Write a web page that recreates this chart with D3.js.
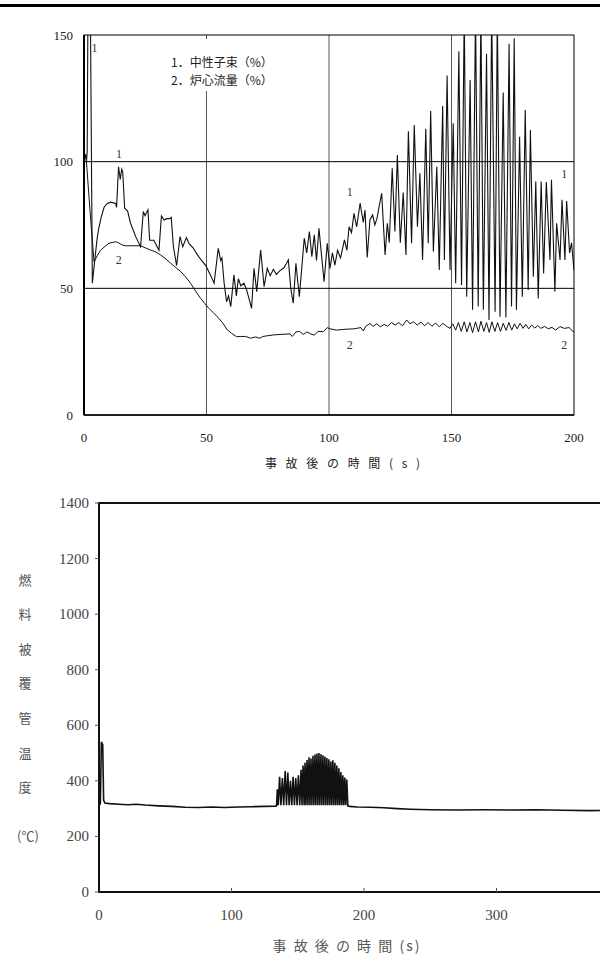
<!DOCTYPE html>
<html>
<head>
<meta charset="utf-8">
<script src="https://cdn.jsdelivr.net/npm/d3@7"></script>
<style>
  body { margin: 0; background: #fff; }
  svg { display: block; }
  .num { font-family: "Liberation Serif", "DejaVu Serif", serif; }
  .jp { font-family: "Noto Sans CJK JP", sans-serif; }
</style>
</head>
<body>
<div id="chart"></div>
<script>
// top chart: neutron flux (1) and core flow (2), % vs time after accident (s)
const fluxData = [
  [0,100],[0.6,103],[1.0,100],[1.3,104],[1.7,175],[2.5,175],[3.4,52],
  [4.5,62],[5.4,70],[6.1,74],[7,78],[8.2,82],[9.5,83.5],[10.9,84],[12.9,83.5],[13.3,82],
  [14.1,98],[14.8,93],[15.4,97],[15.8,96],[16.6,81.6],[17.3,81],[17.8,80.5],[19.0,75.7],
  [21.1,70.4],[23.1,66.4],[24.2,80.3],[24.9,78.7],[25.6,80],[26.1,81],[26.8,69],[28.5,69],
  [30.6,65],[31.6,78.6],[32.7,77],[33.8,77.5],[35.0,77.5],[35.6,78],[36.5,66.4],[37.8,59],
  [39.2,70.4],[40.3,66.4],[41.8,70],[42.9,67.6],[44.5,66],[46.3,63.2],[48,61],[49.7,59],
  [51.5,55.5],[53.1,52],[54.8,65.8],[55.8,61],[56.3,62],[57.2,52],[58.2,44.7],[59.0,47],
  [59.9,42.8],[61.2,55.3],[62.2,47],[63,53.8],[64,51],[65.3,52],[66.5,49],[68.4,42.1],
  [69.4,57.9],[70.5,48.7],[72.1,65.1],[73.5,50.7],[74.8,57.9],[76,55],[77.3,57.5],[78.5,55.5],
  [80,57],[81.5,58],[82.7,59.9],[83.4,61.2],[84.4,50],[85.4,44.1],[86.5,59.9],[87.9,46.7],
  [89.9,69.8],[90.9,64],[92,72.4],[93,62.5],[94,71.1],[94.9,61],[95.9,73.7],[97,62.5],
  [98,52.6],[99.3,67.8],[100.4,57.9],[101.4,64],[102.4,59.2],[103.5,65],[104.7,62],[106.3,69.1],
  [107.3,65],[108.2,74.3],[109.2,72],[110.2,79.6],[111.3,74.3],[112.7,83.6],[114,76],[114.7,80.9],
  [115.6,62.2],[116.7,77],[117.8,79],[118.7,75],[119.6,77.6],[120.6,83],[121.5,87.5],[122.9,63.2],
  [123.8,75.7],[124.6,68],[125.8,97.4],[126.9,72.4],[127.9,102.6],[129.1,68],[130.3,87.8],[131.4,63.2],
  [132.4,112],[133.7,67.8],[134.8,114.5],[136.1,74.3],[137.1,95.4],[138.2,61.2],[139.5,113],[140.5,67.8],
  [141.5,120],[142.6,64.5],[144,98],[145,57.2],[146.4,122],[147.1,61.2],[148.2,134],[149.4,57.2],
  [150.7,115.2],[151.7,52],[153,143.6],[154.1,51.3],[155.2,160],[156.2,46.7],[157.6,132.2],[158.6,41.5],
  [159.8,160],[160.9,42.8],[162,160],[163,41.5],[164.3,142.6],[165.3,37.5],[166.4,160],[167.8,40.8],
  [168.7,160],[169.8,38.8],[171.1,127.3],[172.2,38.5],[173.5,146.5],[174.5,42.8],[175.6,148.7],[176.5,41.5],
  [177.8,109.8],[178.9,46.7],[180.1,120.4],[181.3,49.3],[182.2,112.5],[183.4,54.6],[184.4,92.2],[185.4,46],
  [186.6,92.2],[187.6,55.9],[188.7,92],[190.2,61.2],[190.8,92.9],[192.2,48.7],[192.9,75.7],[194.3,61.2],
  [195.1,85],[196.3,61.2],[197,84.5],[198.2,64],[199,68],[200,57]
];

const flowData = [
  [0,100],[1,100],[2.5,80],[4.1,60.5],[5.5,63],[6.8,65.1],[8.5,66.5],[10.2,67.8],[12.9,68.4],
  [14,68],[15.6,67.1],[17,66.8],[19,66.8],[23.1,66.8],[25,66],[27.2,65.1],[29,64.5],[31.3,63.2],
  [33.5,61.5],[35.4,59.9],[37.5,58.2],[39.5,56.6],[41.5,54.5],[43.5,52],[45.5,49],[47.6,46],
  [49.3,44],[51,42.1],[52.7,40.5],[54.4,38.8],[56.5,36.5],[58.5,33.6],[60.3,32.2],[62.3,30.9],
  [64,31],[66,31],[68,30.3],[70,30.8],[71.8,30.3],[73,31],[75,31.3],[77.3,31.6],[80,31.8],
  [84.1,32],[85,31],[86.5,32.8],[88,33],[89.5,31.8],[91,32.8],[92.5,32],[94,31.5],[95.5,33],
  [97.7,32.9],[99.3,34.5],[100.5,34],[103,33.5],[106,33.8],[110,34],[113,34.5],[114,33.2],
  [115,35],[116.7,36.1],[118,35],[119.5,36],[121,34.8],[122.5,35.8],[124,35],[125.5,36.5],
  [127,35.5],[128.5,36.5],[130,35.2],[131.7,37.5],[133,36],[134.5,36.8],[136,35.5],[137.5,36.7],
  [139,35.2],[140.5,36.5],[142,35],[143.5,36.3],[145,34.8],[146.5,36.2],[148,35],[149.4,34.2],
  [150.5,36],[151.7,33.5],[152.8,36.5],[154,33],[155.2,36.8],[156.3,32.8],[157.5,36.5],[158.6,32.5],
  [159.8,36.8],[161,32.8],[162,37],[163.2,33],[164.3,36.5],[165.4,32.6],[166.5,36.8],[167.7,33],
  [168.8,36.5],[170,33],[171.1,36.2],[172.3,33.4],[173.4,36.5],[174.6,33.5],[175.7,36],[176.8,34],
  [178,36.2],[179.2,34.2],[180.3,35.8],[181.5,34],[182.7,35.5],[184,34.3],[185.2,35.3],[186.5,34.2],
  [188,35],[189.5,34],[191,34.6],[192.5,33.5],[194.3,34.9],[196,34.2],[198,34.5],[199.7,32.9],[200,33]
];

const topXTicks = [0, 50, 100, 150, 200];
const topYTicks = [0, 50, 100, 150];
const topGridX = [50, 100, 150];
const topGridY = [50, 100];
const legendLines = ['1．中性子束（%）', '2．炉心流量（%）'];
// curve number labels [t, value, text]
const curveLabels = [[4.3, 145, '1'], [14.3, 103, '1'], [108.5, 88, '1'], [196, 95, '1'],
                     [14.2, 61, '2'], [108.5, 27.5, '2'], [196, 27.5, '2']];

// bottom chart: fuel cladding temperature (°C) vs time after accident (s)
const tempData = [
  [0,310],[1,318],[1.8,540],[2.8,530],[3.5,330],[4.5,320],[8,318],[15,316],[22,314],[28,316],
  [35,313],[45,310],[55,308],[65,305],[75,304],[85,306],[95,304],[105,306],[115,307],[125,308],[133,309],
  [134,310],[134.6,370],[135.3,312],[136.3,415],[137.3,312],[138.4,410],[139.4,312],[140.5,435],
  [141.5,312],[142.5,430],[143.5,312],[144.5,400],[145.5,312],[146.5,415],[147.5,312],[148.5,410],
  [149.5,312],[150.5,420],[151.5,312],[152.5,440],[153.2,312],[154,455],[154.8,312],[155.5,465],
  [156.2,312],[157,475],[157.7,312],[158.5,485],[159.2,312],[160,480],[160.7,312],[161.5,490],
  [162.2,312],[163,495],[163.7,312],[164.5,498],[165.2,312],[166,500],[166.7,312],[167.5,496],
  [168.2,312],[169,492],[169.7,312],[170.5,488],[171.2,312],[172,482],[172.7,312],[173.5,478],
  [174.2,312],[175,470],[175.7,312],[176.5,474],[177.2,312],[178,465],[178.7,312],[179.5,455],
  [180.2,312],[181,445],[181.7,312],[182.5,432],[183.2,312],[184,420],[184.7,312],[185.5,412],
  [186.2,312],[187,405],[187.8,310],
  [189,308],[195,306],[205,305],[215,303],[225,300],[235,298],[250,296],[270,295],
  [290,296],[310,295],[330,296],[350,294],[370,293],[400,294]
];
const bottomXTicks = [0, 100, 200, 300];
const bottomYTicks = [0, 200, 400, 600, 800, 1000, 1200, 1400];
const yLabelChars = ['燃', '料', '被', '覆', '管', '温', '度', '(℃)'];

const svg = d3.select('#chart').append('svg')
  .attr('width', 600)
  .attr('height', 960);

// heavy rule at the very top
svg.append('rect')
  .attr('x', 0).attr('y', 4)
  .attr('width', 600).attr('height', 3)
  .attr('fill', '#000');

// ---------- top chart ----------
const x1 = d3.scaleLinear().domain([0, 200]).range([84, 574]);
const y1 = d3.scaleLinear().domain([0, 150]).range([415, 35]);

svg.append('clipPath').attr('id', 'clipTop')
  .append('rect')
  .attr('x', x1(0)).attr('y', y1(150))
  .attr('width', x1(200) - x1(0)).attr('height', y1(0) - y1(150));

const gTop = svg.append('g');

gTop.selectAll('.gx').data(topGridX).enter().append('line')
  .attr('x1', d => x1(d)).attr('x2', d => x1(d))
  .attr('y1', y1(0)).attr('y2', y1(150))
  .attr('stroke', '#555').attr('stroke-width', 1);

gTop.selectAll('.gy').data(topGridY).enter().append('line')
  .attr('x1', x1(0)).attr('x2', x1(200))
  .attr('y1', d => y1(d)).attr('y2', d => y1(d))
  .attr('stroke', '#000').attr('stroke-width', 1);

// legend sits on a white patch that hides the grid line
gTop.append('rect')
  .attr('x', 160).attr('y', y1(150) + 4)
  .attr('width', 130).attr('height', 52)
  .attr('fill', '#fff');

gTop.selectAll('.legend').data(legendLines).enter().append('text')
  .attr('class', 'jp')
  .attr('x', 171)
  .attr('y', (d, i) => 61 + i * 18)
  .attr('dominant-baseline', 'central')
  .attr('font-size', '12px')
  .attr('fill', '#222')
  .text(d => d);

const line1 = d3.line().x(d => x1(d[0])).y(d => y1(d[1]));

gTop.append('path')
  .datum(flowData)
  .attr('clip-path', 'url(#clipTop)')
  .attr('fill', 'none')
  .attr('stroke', '#111')
  .attr('stroke-width', 1)
  .attr('d', line1);

gTop.append('path')
  .datum(fluxData)
  .attr('clip-path', 'url(#clipTop)')
  .attr('fill', 'none')
  .attr('stroke', '#111')
  .attr('stroke-width', 1.1)
  .attr('d', line1);

// frame
gTop.append('rect')
  .attr('x', x1(0)).attr('y', y1(150))
  .attr('width', x1(200) - x1(0)).attr('height', y1(0) - y1(150))
  .attr('fill', 'none').attr('stroke', '#000').attr('stroke-width', 1);
gTop.append('line')
  .attr('x1', x1(0)).attr('x2', x1(0)).attr('y1', y1(150)).attr('y2', y1(0))
  .attr('stroke', '#000').attr('stroke-width', 2);
gTop.append('line')
  .attr('x1', x1(0)).attr('x2', x1(200)).attr('y1', y1(0)).attr('y2', y1(0))
  .attr('stroke', '#000').attr('stroke-width', 1.5);

gTop.selectAll('.cl').data(curveLabels).enter().append('text')
  .attr('class', 'num')
  .attr('x', d => x1(d[0]))
  .attr('y', d => y1(d[1]))
  .attr('text-anchor', 'middle')
  .attr('dominant-baseline', 'central')
  .attr('font-size', '12px')
  .attr('fill', '#333')
  .text(d => d[2]);

gTop.selectAll('.yt').data(topYTicks).enter().append('text')
  .attr('class', 'num')
  .attr('x', x1(0) - 11)
  .attr('y', d => y1(d))
  .attr('text-anchor', 'end')
  .attr('dominant-baseline', 'central')
  .attr('font-size', '13px')
  .attr('fill', '#222')
  .text(d => d);

gTop.selectAll('.xt').data(topXTicks).enter().append('text')
  .attr('class', 'num')
  .attr('x', d => x1(d))
  .attr('y', 437)
  .attr('text-anchor', 'middle')
  .attr('dominant-baseline', 'central')
  .attr('font-size', '13px')
  .attr('fill', '#222')
  .text(d => d);

gTop.append('text')
  .attr('class', 'jp')
  .attr('x', 344)
  .attr('y', 462)
  .attr('text-anchor', 'middle')
  .attr('dominant-baseline', 'central')
  .attr('font-size', '12px')
  .attr('letter-spacing', '3px')
  .attr('fill', '#222')
  .attr('xml:space', 'preserve')
  .text('事 故 後 の 時 間 ( s )');

// ---------- bottom chart ----------
const x2 = d3.scaleLinear().domain([0, 400]).range([99, 629]);
const y2 = d3.scaleLinear().domain([0, 1400]).range([892, 503]);

const gBot = svg.append('g');

const line2 = d3.line().x(d => x2(d[0])).y(d => y2(d[1]));

gBot.append('path')
  .datum(tempData)
  .attr('fill', 'none')
  .attr('stroke', '#111')
  .attr('stroke-width', 1.6)
  .attr('d', line2);

// axes: left, top, bottom
gBot.append('line')
  .attr('x1', x2(0)).attr('x2', x2(0)).attr('y1', y2(1400) - 1).attr('y2', y2(0) + 1)
  .attr('stroke', '#111').attr('stroke-width', 2);
gBot.append('line')
  .attr('x1', x2(0)).attr('x2', 600).attr('y1', y2(1400)).attr('y2', y2(1400))
  .attr('stroke', '#111').attr('stroke-width', 2);
gBot.append('line')
  .attr('x1', x2(0)).attr('x2', 600).attr('y1', y2(0)).attr('y2', y2(0))
  .attr('stroke', '#111').attr('stroke-width', 2);

gBot.selectAll('.ytk').data(bottomYTicks).enter().append('line')
  .attr('x1', x2(0) - 4).attr('x2', x2(0))
  .attr('y1', d => y2(d)).attr('y2', d => y2(d))
  .attr('stroke', '#555').attr('stroke-width', 1);

gBot.selectAll('.xtk').data(bottomXTicks.slice(1)).enter().append('line')
  .attr('x1', d => x2(d)).attr('x2', d => x2(d))
  .attr('y1', y2(0)).attr('y2', y2(0) - 4)
  .attr('stroke', '#555').attr('stroke-width', 1);

gBot.selectAll('.yl').data(bottomYTicks).enter().append('text')
  .attr('class', 'num')
  .attr('x', x2(0) - 10)
  .attr('y', d => y2(d))
  .attr('text-anchor', 'end')
  .attr('dominant-baseline', 'central')
  .attr('font-size', '15px')
  .attr('fill', '#444')
  .text(d => d);

gBot.selectAll('.xl').data(bottomXTicks).enter().append('text')
  .attr('class', 'num')
  .attr('x', d => x2(d))
  .attr('y', 915)
  .attr('text-anchor', 'middle')
  .attr('dominant-baseline', 'central')
  .attr('font-size', '15px')
  .attr('fill', '#444')
  .text(d => d);

gBot.selectAll('.ylab').data(yLabelChars).enter().append('text')
  .attr('class', 'jp')
  .attr('x', (d, i) => i === 7 ? 28 : 25)
  .attr('y', (d, i) => i === 7 ? 835 : 579 + i * 34.6)
  .attr('text-anchor', 'middle')
  .attr('dominant-baseline', 'central')
  .attr('font-size', '13px')
  .attr('fill', '#555')
  .text(d => d);

gBot.append('text')
  .attr('class', 'jp')
  .attr('x', 347)
  .attr('y', 945)
  .attr('text-anchor', 'middle')
  .attr('dominant-baseline', 'central')
  .attr('font-size', '14px')
  .attr('letter-spacing', '2px')
  .attr('fill', '#555')
  .attr('xml:space', 'preserve')
  .text('事 故 後 の 時 間 (s)');
</script>
</body>
</html>
